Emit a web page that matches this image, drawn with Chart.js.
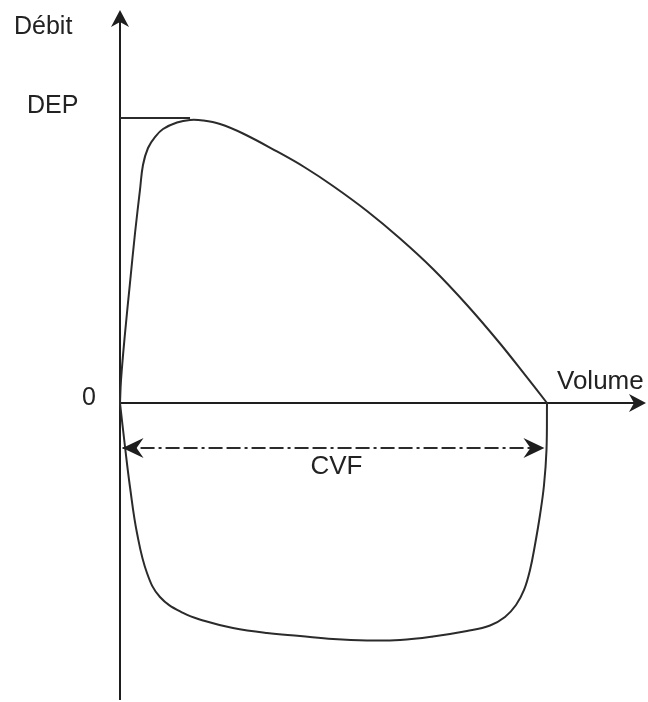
<!DOCTYPE html>
<html lang="fr">
<head>
<meta charset="UTF-8">
<title>Courbe débit-volume</title>
<script src="https://cdn.jsdelivr.net/npm/chart.js"></script>
<style>
    body {
        margin: 0;
        background: #ffffff;
    }
    .chart-box {
        width: 648px;
        height: 702px;
        position: relative;
    }
</style>
</head>
<body>

<div class="chart-box">
    <canvas id="boucle"></canvas>
</div>

<script>
// Boucle débit-volume (volume en L, débit en L/s)
const CVF = 5.0;
const DEP = 10.0;

// courbe expiratoire (partie haute)
const volExp = [0, 0.012, 0.059, 0.117, 0.176, 0.234, 0.269, 0.328, 0.410, 0.504, 0.667, 0.820, 0.972, 1.171, 1.440, 1.838, 2.166, 2.494, 2.892, 3.279, 3.665, 4.063, 4.450, 4.766, 5.0];
const debExp = [0, 0.807, 2.456, 4.211, 5.965, 7.474, 8.351, 8.947, 9.333, 9.614, 9.842, 9.930, 9.912, 9.789, 9.456, 8.825, 8.263, 7.614, 6.737, 5.772, 4.702, 3.439, 2.088, 0.895, 0];

// courbe inspiratoire (partie basse)
const volInsp = [0, 0.059, 0.117, 0.199, 0.316, 0.468, 0.738, 0.995, 1.323, 1.721, 2.108, 2.494, 2.892, 3.279, 3.665, 4.063, 4.333, 4.508, 4.637, 4.731, 4.801, 4.859, 4.918, 4.965, 4.994, 5.0];
const debInsp = [0, -1.544, -2.947, -4.561, -5.965, -6.807, -7.368, -7.649, -7.895, -8.070, -8.175, -8.281, -8.333, -8.316, -8.193, -8.000, -7.807, -7.509, -7.088, -6.561, -5.860, -4.982, -3.930, -2.877, -1.649, 0];

// flèche CVF
const volCVF = [0.03, 4.97];
const debCVF = [-1.58, -1.58];

// trait horizontal du DEP
const volDEP = [0, 0.82];

function toPoints(xs, ys) {
    return xs.map((x, i) => ({ x: x, y: ys[i] }));
}

function arrowHead(ctx, x, y, angle, len, half, notch) {
    ctx.save();
    ctx.translate(x, y);
    ctx.rotate(angle);
    ctx.beginPath();
    ctx.moveTo(0, 0);
    ctx.lineTo(-len, -half);
    ctx.lineTo(-len + notch, 0);
    ctx.lineTo(-len, half);
    ctx.closePath();
    ctx.fill();
    ctx.restore();
}

// axes, flèches et textes
const decor = {
    id: 'decor',
    beforeDatasetsDraw(chart) {
        const ctx = chart.ctx;
        const sx = chart.scales.x;
        const sy = chart.scales.y;
        const x0 = sx.getPixelForValue(0);
        const y0 = sy.getPixelForValue(0);

        ctx.save();
        ctx.strokeStyle = '#1e1e1e';
        ctx.fillStyle = '#1e1e1e';
        ctx.lineWidth = 2;
        // axe des débits
        ctx.beginPath();
        ctx.moveTo(x0, 700);
        ctx.lineTo(x0, 18);
        ctx.stroke();
        arrowHead(ctx, x0, 10, -Math.PI / 2, 17, 9, 5);
        // axe des volumes
        ctx.beginPath();
        ctx.moveTo(x0, y0);
        ctx.lineTo(638, y0);
        ctx.stroke();
        arrowHead(ctx, 646, y0, 0, 17, 9, 5);
        ctx.restore();
    },
    afterDatasetsDraw(chart) {
        const ctx = chart.ctx;
        const sx = chart.scales.x;
        const sy = chart.scales.y;

        ctx.save();
        ctx.fillStyle = '#1e1e1e';
        // pointes de la flèche CVF
        const yc = sy.getPixelForValue(debCVF[0]);
        arrowHead(ctx, sx.getPixelForValue(volCVF[0]), yc, Math.PI, 21, 10, 7);
        arrowHead(ctx, sx.getPixelForValue(volCVF[1]), yc, 0, 21, 10, 7);

        ctx.font = '25px "Liberation Sans", Arial, sans-serif';
        ctx.textBaseline = 'middle';
        ctx.fillStyle = '#222222';
        ctx.textAlign = 'left';
        ctx.fillText('Débit', 14, 27);
        ctx.fillText('DEP', 27, 106);
        ctx.fillText('0', 82, 398);
        ctx.font = '26px "Liberation Sans", Arial, sans-serif';
        ctx.fillText('Volume', 557, 382);
        ctx.textAlign = 'center';
        ctx.fillText('CVF', sx.getPixelForValue(CVF / 2) + 3, 467);
        ctx.restore();
    }
};

const ctx = document.getElementById('boucle').getContext('2d');

new Chart(ctx, {
    type: 'scatter',
    data: {
        datasets: [
            {
                label: 'Expiration',
                data: toPoints(volExp, debExp),
                showLine: true,
                borderColor: '#2b2b2b',
                borderWidth: 2,
                pointRadius: 0,
                tension: 0.4
            },
            {
                label: 'Inspiration',
                data: toPoints(volInsp, debInsp),
                showLine: true,
                borderColor: '#2b2b2b',
                borderWidth: 2,
                pointRadius: 0,
                tension: 0.4
            },
            {
                label: 'DEP',
                data: toPoints(volDEP, [DEP, DEP]),
                showLine: true,
                borderColor: '#2b2b2b',
                borderWidth: 2,
                pointRadius: 0
            },
            {
                label: 'CVF',
                data: toPoints(volCVF, debCVF),
                showLine: true,
                borderColor: '#2b2b2b',
                borderWidth: 2,
                borderDash: [14, 4, 14, 4, 3, 4],
                pointRadius: 0
            }
        ]
    },
    options: {
        responsive: true,
        maintainAspectRatio: false,
        animation: false,
        layout: { padding: 0 },
        plugins: {
            legend: { display: false },
            tooltip: { enabled: false }
        },
        scales: {
            x: {
                type: 'linear',
                display: false,
                min: -120 / 85.4,
                max: 528 / 85.4
            },
            y: {
                type: 'linear',
                display: false,
                min: -299 / 28.5,
                max: 403 / 28.5
            }
        }
    },
    plugins: [decor]
});
</script>

</body>
</html>
